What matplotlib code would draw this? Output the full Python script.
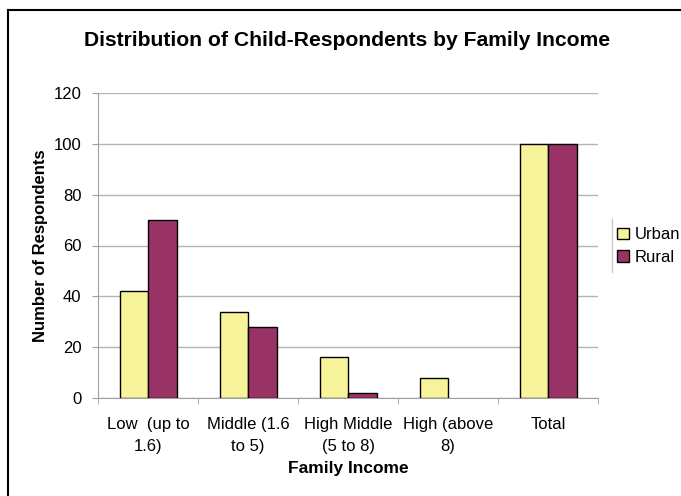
import matplotlib
matplotlib.use("Agg")
import matplotlib.pyplot as plt
import numpy as np
from matplotlib.lines import Line2D
from matplotlib.patches import Patch

plt.rcParams['font.family'] = ['Liberation Sans', 'DejaVu Sans']

categories = ["Low  (up to\n1.6)", "Middle (1.6\nto 5)", "High Middle\n(5 to 8)",
              "High (above\n8)", "Total"]
urban = [42, 34, 16, 8, 100]
rural = [70, 28, 2, 0, 100]
series = ["Urban", "Rural"]
colors = ["#F7F39B", "#993366"]

W, H = 681, 496
fig = plt.figure(figsize=(W / 100, H / 100), dpi=100)
ax = fig.add_axes([98 / W, 1 - 398 / H, 500 / W, 305 / H])

x = np.arange(len(categories))
bw = 0.285
ax.bar(x - bw / 2, urban, bw, color=colors[0], edgecolor="black", linewidth=1.0, zorder=3)
# a zero bar draws no outline
rural_edges = ["black" if v > 0 else "none" for v in rural]
ax.bar(x + bw / 2, rural, bw, color=colors[1], edgecolor=rural_edges, linewidth=1.0, zorder=3)

ax.set_xlim(-0.5, len(categories) - 0.5)
ax.set_ylim(0, 120)
ax.set_yticks(range(0, 121, 20))
ax.yaxis.grid(True, color="#b3b3b3", linewidth=1.0, zorder=0)

# category labels centred, tick marks between categories
ax.set_xticks(x)
ax.set_xticklabels(categories, fontsize=12, linespacing=1.55)
ax.set_xticks(np.arange(-0.5, len(categories)), minor=True)
ax.tick_params(axis="x", which="major", length=0, pad=14)
ax.tick_params(axis="x", which="minor", length=4, color="#a0a0a0", direction="out")
ax.tick_params(axis="y", length=4, color="#a0a0a0", labelsize=12, pad=8)

for s in ("top", "right"):
    ax.spines[s].set_visible(False)
for s in ("left", "bottom"):
    ax.spines[s].set_color("#a0a0a0")

ax.set_ylabel("Number of Respondents", fontsize=12, fontweight="bold", labelpad=4)
ax.set_xlabel("Family Income", fontsize=12.5, fontweight="bold", labelpad=5)
fig.text(0.5 * (82 + 613) / W, 1 - 40 / H, "Distribution of Child-Respondents by Family Income",
         ha="center", va="center", fontsize=15.2, fontweight="bold")

handles = [Patch(facecolor=c, edgecolor="black", linewidth=1.0) for c in colors]
fig.legend(handles, series, loc="center left", bbox_to_anchor=(617 / W, 1 - 246 / H),
           frameon=False, fontsize=12, handlelength=0.7, handleheight=0.7,
           handletextpad=0.35, labelspacing=0.45, borderaxespad=0, borderpad=0)
fig.add_artist(Line2D([612 / W, 612 / W], [1 - 219 / H, 1 - 272 / H],
                      color="#c8c8c8", linewidth=1.0))

# chart-area border (left and top edges)
fig.add_artist(Line2D([8 / W, 8 / W], [0, 1 - 10 / H], color="black", linewidth=1.5))
fig.add_artist(Line2D([8 / W, 1], [1 - 10 / H, 1 - 10 / H], color="black", linewidth=1.5))

fig.savefig("out.png", dpi=100)
